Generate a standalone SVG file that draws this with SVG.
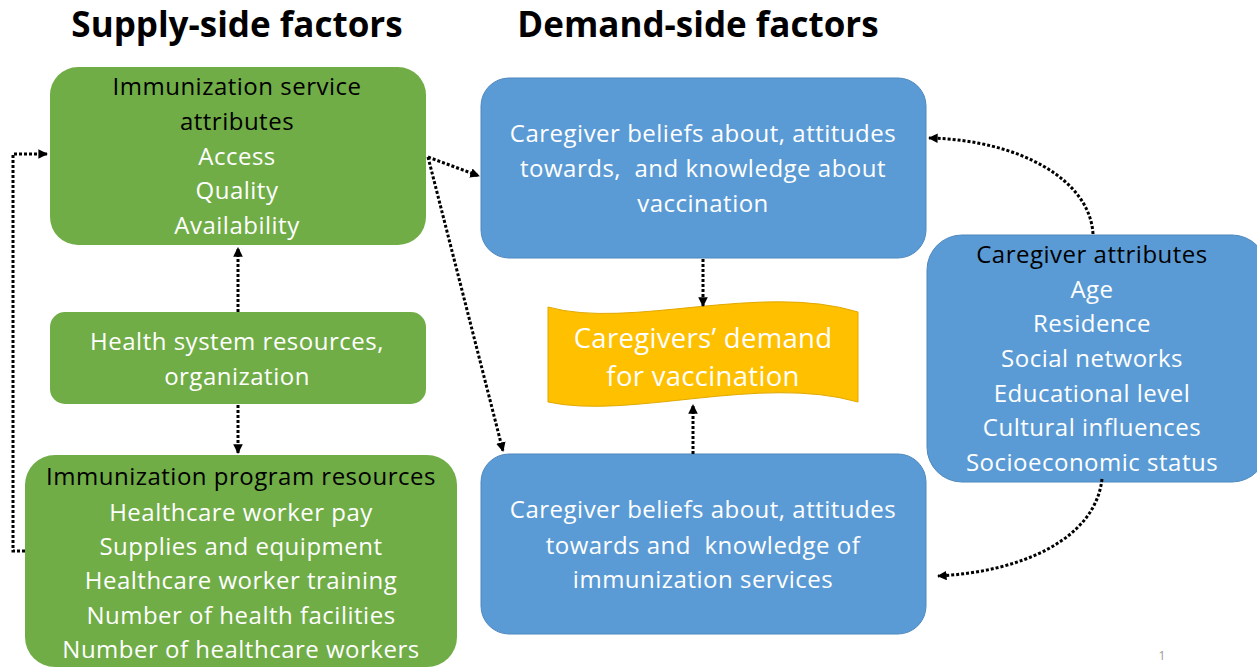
<svg xmlns="http://www.w3.org/2000/svg" width="1257" height="669" viewBox="0 0 1257 669">
<style>
text{font-family:"Open Sans","Noto Sans","Liberation Sans",sans-serif;text-anchor:middle}
.t{font-size:35px;font-weight:bold;fill:#000}
.g{fill:#70AD47}
.b{fill:#5B9BD5;stroke:#4F88BE;stroke-width:1}
.w{font-size:24px;letter-spacing:0.5px;fill:#fff}
.k{font-size:24px;letter-spacing:0.5px;fill:#000}
.y{font-size:27.5px;letter-spacing:0.3px;fill:#fff}
.c{fill:none;stroke:#000;stroke-width:3;stroke-dasharray:3 2}
</style>
<defs>
<marker id="ah" viewBox="0 0 10 10" refX="9" refY="5" markerWidth="3.2" markerHeight="3.2" orient="auto-start-reverse" markerUnits="strokeWidth">
<path d="M0,0 L10,5 L0,10 Z" fill="#000"/>
</marker>
</defs>
<rect width="1257" height="669" fill="#fff"/>
<text class="t" x="237" y="37">Supply-side factors</text>
<text class="t" x="698" y="37">Demand-side factors</text>

<g id="service-attributes">
<rect class="g" x="50" y="67" width="376" height="178" rx="28"/>
<text class="k" x="237" y="95">Immunization service</text>
<text class="k" x="237" y="130">attributes</text>
<text class="w" x="237" y="165">Access</text>
<text class="w" x="237" y="199">Quality</text>
<text class="w" x="237" y="234">Availability</text>
</g>
<g id="health-system">
<rect class="g" x="50" y="312" width="376" height="92" rx="15"/>
<text class="w" x="237" y="350">Health system resources,</text>
<text class="w" x="237" y="385">organization</text>
</g>
<g id="program-resources">
<rect class="g" x="25" y="455" width="432" height="212" rx="30"/>
<text class="k" x="241" y="485">Immunization program resources</text>
<text class="w" x="241" y="521">Healthcare worker pay</text>
<text class="w" x="241" y="555">Supplies and equipment</text>
<text class="w" x="241" y="589">Healthcare worker training</text>
<text class="w" x="241" y="624">Number of health facilities</text>
<text class="w" x="241" y="658">Number of healthcare workers</text>
</g>
<g id="beliefs-vaccination">
<rect class="b" x="481" y="78" width="445" height="180" rx="28"/>
<text class="w" x="703" y="142">Caregiver beliefs about, attitudes</text>
<text class="w" x="703" y="177" xml:space="preserve">towards,  and knowledge about</text>
<text class="w" x="703" y="212">vaccination</text>
</g>
<g id="beliefs-services">
<rect class="b" x="481" y="454" width="445" height="180" rx="28"/>
<text class="w" x="703" y="518">Caregiver beliefs about, attitudes</text>
<text class="w" x="703" y="554" xml:space="preserve">towards and  knowledge of</text>
<text class="w" x="703" y="588">immunization services</text>
</g>
<g id="caregiver-attributes">
<rect class="b" x="927" y="235" width="340" height="247" rx="35"/>
<text class="k" x="1092" y="263">Caregiver attributes</text>
<text class="w" x="1092" y="298">Age</text>
<text class="w" x="1092" y="332">Residence</text>
<text class="w" x="1092" y="367">Social networks</text>
<text class="w" x="1092" y="402">Educational level</text>
<text class="w" x="1092" y="436">Cultural influences</text>
<text class="w" x="1092" y="471">Socioeconomic status</text>
</g>
<g id="demand">
<path d="M548,307 C630,330 760,282 858,312 L858,402 C760,374 630,420 548,402 Z" fill="#FFC000" stroke="#E0A800" stroke-width="1"/>
<text class="y" x="703" y="348">Caregivers’ demand</text>
<text class="y" x="703" y="386">for vaccination</text>
</g>

<g id="connectors">
<path class="c" d="M25,551 L13,551 L13,154 L47,154" marker-end="url(#ah)"/>
<path class="c" d="M428,157 L479,176" marker-end="url(#ah)"/>
<path class="c" d="M428,157 L503,451" marker-end="url(#ah)"/>
<path class="c" d="M238,312 L238,248" marker-end="url(#ah)"/>
<path class="c" d="M238,405 L238,453" marker-end="url(#ah)"/>
<path class="c" d="M703,259 L703,306" marker-end="url(#ah)"/>
<path class="c" d="M693,454 L693,405" marker-end="url(#ah)"/>
<path class="c" d="M1093,234 C1090,180 1020,140 929,138" marker-end="url(#ah)"/>
<path class="c" d="M1102,479 C1095,540 1020,572 938,576" marker-end="url(#ah)"/>
</g>
<text x="1162" y="660" style="font-size:12px;fill:#999">1</text>
</svg>
